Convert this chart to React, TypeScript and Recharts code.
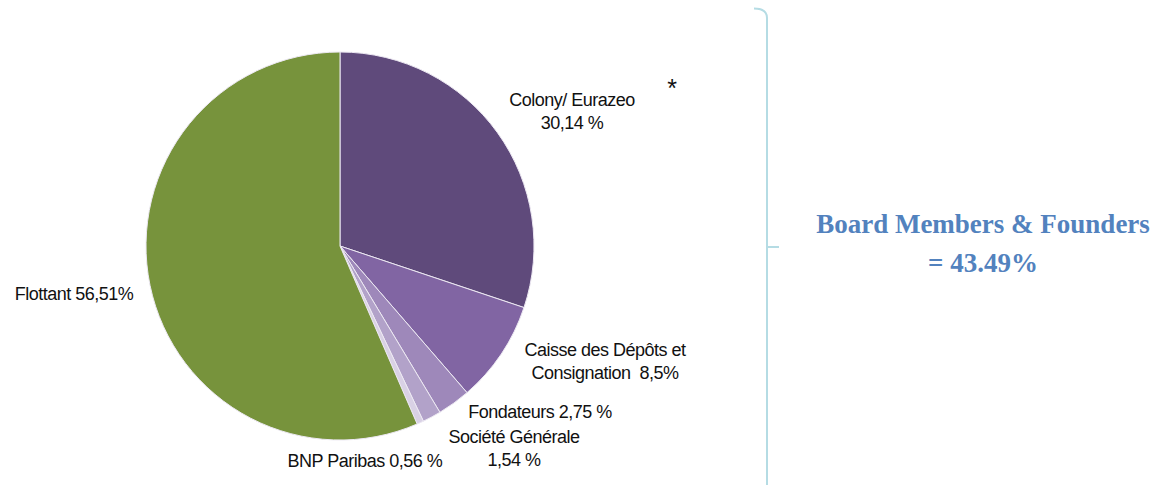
import { PieChart, Pie, Cell } from 'recharts'

const holders = ['Colony/ Eurazeo', 'Caisse des Dépôts et Consignation', 'Fondateurs', 'Société Générale', 'BNP Paribas', 'Flottant']
const shares = [30.14, 8.5, 2.75, 1.54, 0.56, 56.51]
const shareLabels = [
  ['Colony/ Eurazeo', '30,14 %'],
  ['Caisse des Dépôts et', 'Consignation  8,5%'],
  ['Fondateurs 2,75 %'],
  ['Société Générale', '1,54 %'],
  ['BNP Paribas 0,56 %'],
  ['Flottant 56,51%'],
]
const colors = ['#5F4A7B', '#8165A3', '#9E88BA', '#B2A2C9', '#D9D1E5', '#77933C']
const boardTitle = 'Board Members & Founders'
const boardValue = '= 43.49%'

// label offsets from the pie centre (first line)
const labelOffsets = [
  [232, -146],
  [265, 104],
  [200, 166],
  [174, 191],
  [25, 215],
  [-266, 48],
]

const data = holders.map((name, i) => ({ name, value: shares[i] }))

const renderLabel = (props: any) => {
  const { cx, cy, index } = props
  const [dx, dy] = labelOffsets[index]
  const lines = shareLabels[index]
  return (
    <text
      x={cx + dx}
      y={cy + dy}
      textAnchor="middle"
      dominantBaseline="central"
      fontFamily="'Liberation Sans', Arial, sans-serif"
      fontSize={18}
      letterSpacing={-0.5}
      fill="#111"
    >
      {lines.map((l, j) => (
        <tspan key={j} x={cx + dx} dy={j === 0 ? 0 : 23} style={{ whiteSpace: 'pre' }}>
          {l}
        </tspan>
      ))}
    </text>
  )
}

export default function App() {
  return (
    <div style={{ position: 'relative', width: 1164, height: 485, background: '#fff' }}>
      <style>{`body{margin:0}`}</style>
      <PieChart width={1164} height={485} margin={{ top: 0, right: 0, bottom: 0, left: 0 }}>
        <Pie
          data={data}
          dataKey="value"
          cx={340}
          cy={246}
          outerRadius={194}
          startAngle={90}
          endAngle={-270}
          stroke="#ECE8F2"
          strokeWidth={1}
          label={renderLabel}
          labelLine={false}
          isAnimationActive={false}
        >
          {data.map((d, i) => (
            <Cell key={d.name} fill={colors[i]} />
          ))}
        </Pie>
      </PieChart>
      <svg width={1164} height={485} style={{ position: 'absolute', left: 0, top: 0, pointerEvents: 'none' }}>
        <text x={672} y={97} textAnchor="middle" fontFamily="'Liberation Sans', Arial, sans-serif" fontSize={25} fill="#111">*</text>
        <path d="M754 8.5 Q767 8.5 767 18 L767 485" fill="none" stroke="#B5DCE4" strokeWidth={2} />
        <path d="M767 247 L779 247" fill="none" stroke="#B5DCE4" strokeWidth={2} />
        <text x={983} y={233} textAnchor="middle" fontFamily="'Liberation Serif', 'Times New Roman', serif" fontWeight="bold" fontSize={27} fill="#5282BE">
          {boardTitle}
        </text>
        <text x={983} y={272} textAnchor="middle" fontFamily="'Liberation Serif', 'Times New Roman', serif" fontWeight="bold" fontSize={27} fill="#5282BE">
          {boardValue}
        </text>
      </svg>
    </div>
  )
}
